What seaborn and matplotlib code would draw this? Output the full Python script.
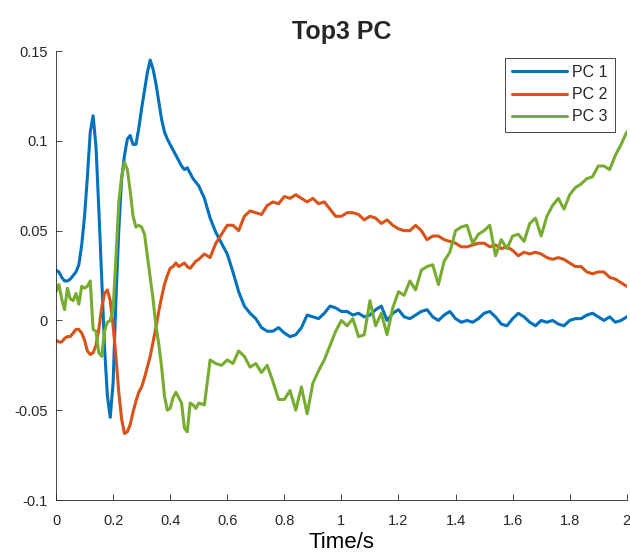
import matplotlib
matplotlib.use("Agg")
import matplotlib.pyplot as plt
import numpy as np
import pandas as pd
import seaborn as sns

# time samples: 10 ms up to 0.5 s, then 20 ms
time_early = np.round(np.arange(0, 0.5, 0.01), 2)
time_late = np.round(np.arange(0.5, 2.0001, 0.02), 2)
time = np.concatenate([time_early, time_late])

# values
pc1 = [0.028, 0.027, 0.024, 0.022, 0.022, 0.023, 0.025, 0.027, 0.031, 0.042,
       0.058, 0.080, 0.105, 0.114, 0.097, 0.062, 0.024, -0.015, -0.042, -0.054,
       -0.035, 0.012, 0.050, 0.079, 0.092, 0.101, 0.103, 0.098, 0.098, 0.107,
       0.118, 0.128, 0.138, 0.145, 0.140, 0.132, 0.122, 0.112, 0.105, 0.101,
       0.098, 0.095, 0.092, 0.089, 0.086, 0.084, 0.085, 0.082, 0.079, 0.077,
       # 0.50 .. 2.00
       0.075, 0.068, 0.057, 0.049, 0.043, 0.037, 0.027, 0.016, 0.008, 0.004,
       0.001, -0.004, -0.006, -0.006, -0.004, -0.007, -0.009, -0.008, -0.004, 0.003,
       0.002, 0.001, 0.004, 0.008, 0.007, 0.005, 0.005, 0.003, 0.004, 0.002,
       0.003, 0.006, 0.008, 0.000, 0.004, 0.006, 0.002, 0.001, 0.003, 0.005,
       0.006, 0.002, 0.000, 0.003, 0.005, 0.001, -0.001, 0.000, -0.001, 0.001,
       0.004, 0.005, 0.002, -0.002, -0.003, 0.001, 0.004, 0.002, -0.001, -0.003,
       0.000, -0.001, 0.000, -0.002, -0.003, 0.000, 0.001, 0.001, 0.003, 0.004,
       0.002, 0.000, 0.002, -0.001, 0.000, 0.002]

pc2 = [-0.011, -0.012, -0.012, -0.010, -0.009, -0.009, -0.007, -0.005, -0.005, -0.007,
       -0.011, -0.017, -0.019, -0.018, -0.014, -0.005, 0.007, 0.015, 0.017, 0.011,
       -0.003, -0.020, -0.040, -0.055, -0.063, -0.062, -0.058, -0.051, -0.045, -0.040,
       -0.037, -0.032, -0.026, -0.020, -0.012, -0.004, 0.005, 0.013, 0.020, 0.025,
       0.029, 0.030, 0.032, 0.030, 0.031, 0.032, 0.030, 0.029, 0.031, 0.033,
       # 0.50 .. 2.00
       0.034, 0.037, 0.035, 0.043, 0.048, 0.053, 0.053, 0.050, 0.058, 0.061,
       0.060, 0.059, 0.064, 0.066, 0.065, 0.069, 0.068, 0.070, 0.068, 0.066,
       0.068, 0.065, 0.066, 0.062, 0.058, 0.058, 0.060, 0.060, 0.059, 0.056,
       0.058, 0.057, 0.054, 0.056, 0.053, 0.051, 0.050, 0.050, 0.053, 0.050,
       0.045, 0.047, 0.047, 0.045, 0.044, 0.043, 0.041, 0.041, 0.042, 0.043,
       0.043, 0.041, 0.042, 0.040, 0.041, 0.039, 0.036, 0.038, 0.037, 0.038,
       0.037, 0.035, 0.034, 0.035, 0.034, 0.032, 0.030, 0.030, 0.027, 0.026,
       0.027, 0.027, 0.024, 0.023, 0.021, 0.019]

pc3 = [0.016, 0.020, 0.012, 0.006, 0.018, 0.012, 0.011, 0.015, 0.009, 0.019,
       0.018, 0.019, 0.022, -0.005, -0.006, -0.018, -0.020, -0.006, -0.001, 0.000,
       0.006, 0.035, 0.066, 0.080, 0.088, 0.084, 0.072, 0.058, 0.052, 0.053,
       0.052, 0.048, 0.036, 0.024, 0.012, -0.003, -0.013, -0.026, -0.042, -0.050,
       -0.049, -0.043, -0.040, -0.043, -0.046, -0.060, -0.062, -0.046, -0.047, -0.049,
       # 0.50 .. 2.00
       -0.046, -0.047, -0.022, -0.024, -0.025, -0.022, -0.024, -0.017, -0.020, -0.026,
       -0.024, -0.029, -0.025, -0.034, -0.044, -0.044, -0.039, -0.050, -0.037, -0.052,
       -0.035, -0.028, -0.022, -0.014, -0.006, 0.000, -0.003, 0.001, -0.009, -0.008,
       0.011, -0.003, 0.004, -0.008, 0.007, 0.016, 0.014, 0.022, 0.017, 0.028,
       0.030, 0.031, 0.020, 0.033, 0.038, 0.050, 0.052, 0.053, 0.043, 0.048,
       0.050, 0.053, 0.036, 0.045, 0.040, 0.047, 0.048, 0.044, 0.054, 0.057,
       0.047, 0.058, 0.064, 0.068, 0.062, 0.070, 0.074, 0.076, 0.079, 0.080,
       0.086, 0.086, 0.084, 0.092, 0.098, 0.105]

labels = ["PC 1", "PC 2", "PC 3"]
colors = ["#0072BD", "#D95319", "#77AC30"]

df = pd.DataFrame({"Time/s": np.tile(time, 3),
                   "value": np.concatenate([pc1, pc2, pc3]),
                   "PC": np.repeat(labels, len(time))})

sns.set_style("ticks")
plt.rcParams["font.family"] = ["Liberation Sans", "DejaVu Sans"]

fig = plt.figure(figsize=(6.3, 5.57), dpi=100)
ax = fig.add_axes([0.0889, 0.1023, 0.906, 0.806])

sns.lineplot(data=df, x="Time/s", y="value", hue="PC", palette=colors,
             linewidth=2.2, ax=ax, legend=False)

ax.set_xlim(0, 2)
ax.set_ylim(-0.1, 0.15)
ax.set_xticks(np.arange(0, 2.01, 0.2))
ax.set_xticklabels(["0", "0.2", "0.4", "0.6", "0.8", "1", "1.2", "1.4", "1.6", "1.8", "2"])
ax.set_yticks([-0.1, -0.05, 0, 0.05, 0.1, 0.15])
ax.set_yticklabels(["-0.1", "-0.05", "0", "0.05", "0.1", "0.15"])
ax.tick_params(direction="in", length=4, width=0.6, colors="#262626", labelsize=10.5)
ax.tick_params(axis="x", pad=10)
ax.tick_params(axis="y", pad=6)
for s in ["top", "right"]:
    ax.spines[s].set_visible(False)
for s in ["left", "bottom"]:
    ax.spines[s].set_color("#262626")
    ax.spines[s].set_linewidth(0.6)

ax.set_xlabel("Time/s", fontsize=16, color="black", labelpad=3)
ax.set_ylabel("")
ax.set_title("Top3 PC", fontsize=18, fontweight="bold", pad=9)

handles = ax.get_lines()[:3]
leg = ax.legend(handles, labels, loc="upper right", bbox_to_anchor=(0.979, 0.985),
                fontsize=11.5, handlelength=3.4, handletextpad=0.35,
                labelspacing=0.45, borderpad=0.45, borderaxespad=0,
                fancybox=False, framealpha=1, edgecolor="#262626")
leg.get_frame().set_linewidth(0.6)

fig.savefig("out.png", dpi=100)
